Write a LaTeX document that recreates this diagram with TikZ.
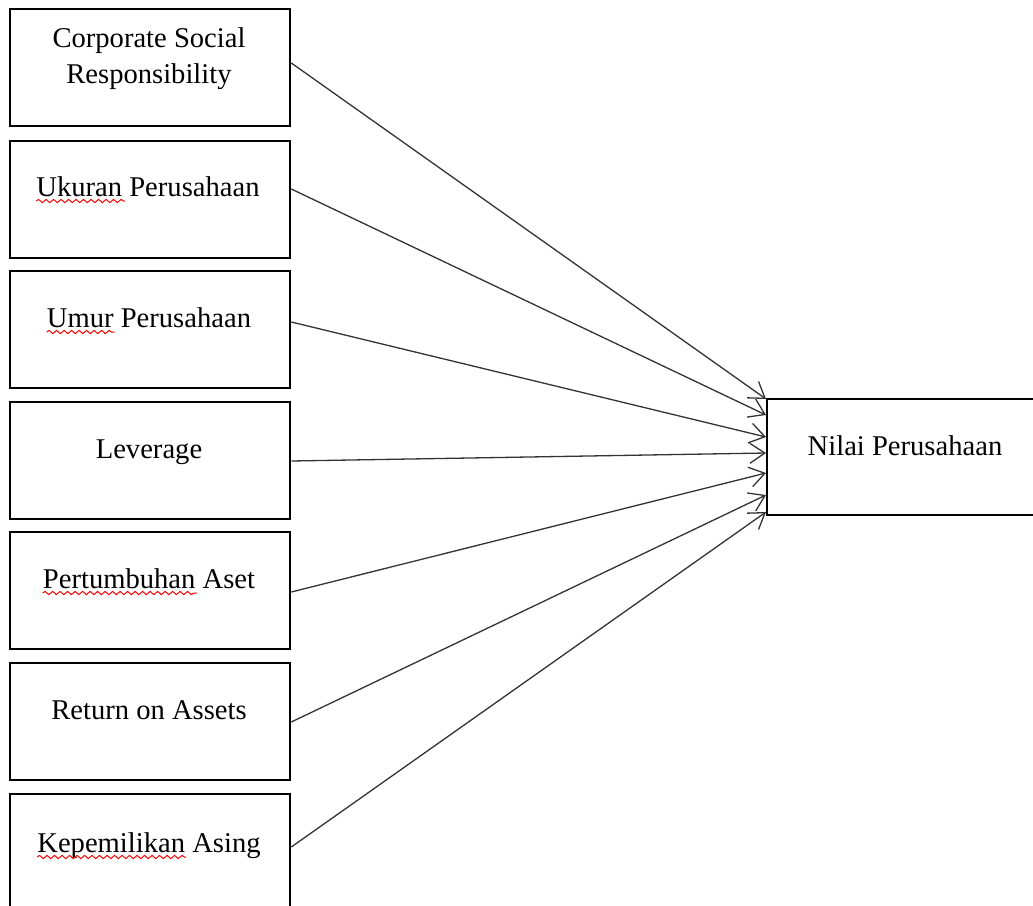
\documentclass[tikz,border=0pt]{standalone}
\usepackage{fontspec}
\setmainfont{Liberation Serif}
\usetikzlibrary{arrows.meta,calc,decorations.pathmorphing}
\tikzset{
  box/.style={draw=black, line width=2.3pt, minimum width=280pt, minimum height=117pt, anchor=north west, inner sep=0pt},
  lbl/.style={font=\fontsize{28.6pt}{35pt}\selectfont, inner sep=0pt, anchor=base},
  arr/.style={draw=black!80, line width=1.3pt, -{Straight Barb[length=15pt,width=20pt,line width=1.3pt]}},
  squig/.style={draw=red, line width=1pt, decorate, decoration={snake, segment length=7.5pt, amplitude=1.6pt}}
}
\begin{document}
\begin{tikzpicture}[x=1pt,y=-1pt]
\useasboundingbox (0,0) rectangle (1033,905);
\clip (0,0) rectangle (1033,905);
\fill[white] (0,0) rectangle (1033,905);
% left boxes
\node[box] (b1) at (9,8) {};
\node[box] (b2) at (9,140) {};
\node[box] (b3) at (9,270) {};
\node[box] (b4) at (9,401) {};
\node[box] (b5) at (9,531) {};
\node[box] (b6) at (9,662) {};
\node[box, minimum height=140pt] (b7) at (9,793) {};
% right box
\node[box, minimum width=290pt, minimum height=116pt] (n) at (766,398) {};
% labels
\node[lbl] (t1a) at (149,47) {Corporate Social};
\node[lbl] (t1b) at (149,83) {Responsibility};
\node[lbl] (t2) at (148,196) {Ukuran Perusahaan};
\node[lbl] (t3) at (149,327) {Umur Perusahaan};
\node[lbl] (t4) at (149,458) {Leverage};
\node[lbl] (t5) at (149,588) {Pertumbuhan Aset};
\node[lbl] (t6) at (149,719) {Return on Assets};
\node[lbl] (t7) at (149,852) {Kepemilikan Asing};
\node[lbl] (tn) at (905,455) {Nilai Perusahaan};
% spell-check squiggles
\draw[squig] ($(t2.base west)+(0,5)$) -- ++(89,0);
\draw[squig] ($(t3.base west)+(0,5)$) -- ++(68,0);
\draw[squig] ($(t5.base west)+(0,5)$) -- ++(154,0);
\draw[squig] ($(t7.base west)+(0,5)$) -- ++(149,0);
% connectors
\draw[arr] ($(b1.north east)+(0,55)$) -- ($(n.north west)+(0,1)$);
\draw[arr] ($(b2.north east)+(0,49)$) -- ($(n.north west)+(0,17)$);
\draw[arr] ($(b3.north east)+(0,52)$) -- ($(n.north west)+(0,39)$);
\draw[arr] ($(b4.north east)+(0,60)$) -- ($(n.north west)+(0,55)$);
\draw[arr] ($(b5.north east)+(0,61)$) -- ($(n.north west)+(0,75)$);
\draw[arr] ($(b6.north east)+(0,60)$) -- ($(n.north west)+(0,97)$);
\draw[arr] ($(b7.north east)+(0,54)$) -- ($(n.north west)+(0,114)$);
\end{tikzpicture}
\end{document}
